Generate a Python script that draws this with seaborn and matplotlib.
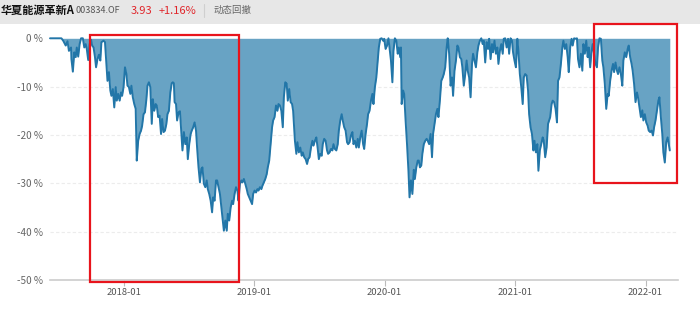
import matplotlib
matplotlib.use("Agg")
import matplotlib.pyplot as plt
import matplotlib.dates as mdates
from matplotlib.patches import Rectangle
import seaborn as sns
import pandas as pd

# ---------------- data (drawdown %) ----------------
dates_2017 = ["2017-06-08", "2017-07-10", "2017-07-15", "2017-07-22", "2017-07-27", "2017-07-31",
              "2017-08-06", "2017-08-07", "2017-08-11", "2017-08-15", "2017-08-19", "2017-08-22",
              "2017-08-26", "2017-08-30", "2017-09-03", "2017-09-08", "2017-09-12", "2017-09-16",
              "2017-09-19", "2017-09-23", "2017-09-27", "2017-10-01", "2017-10-04", "2017-10-08",
              "2017-10-12", "2017-10-15", "2017-10-19", "2017-10-23", "2017-10-27", "2017-10-30",
              "2017-11-05", "2017-11-09", "2017-11-13", "2017-11-16", "2017-11-20", "2017-11-24",
              "2017-11-27", "2017-12-01", "2017-12-05", "2017-12-09", "2017-12-12", "2017-12-16",
              "2017-12-20", "2017-12-24", "2017-12-27", "2017-12-31"]
dd_2017 = [0, 0, -0.5, -1.5, -0.6, -2.6,
           -1.9, -4.3, -6.9, -2.9, -3.9, -1.9,
           -3.8, -1.2, 0, 0, -1.9, -1.2,
           -2.2, -4.5, -1.2, -0.3, -1.5, -1.9,
           -3.9, -6.0, -4.3, -3.4, -4.6, -0.8,
           -0.5, -0.8, -5.3, -8.8, -7.0, -10.8,
           -11.9, -10.5, -14.3, -10.1, -12.9, -11.5,
           -12.9, -11.2, -11.9, -10.1]

dates_2018 = ["2018-01-04", "2018-01-08", "2018-01-11", "2018-01-15", "2018-01-19", "2018-01-22",
              "2018-01-26", "2018-01-30", "2018-02-03", "2018-02-06", "2018-02-10", "2018-02-14",
              "2018-02-18", "2018-02-21", "2018-02-25", "2018-03-01", "2018-03-05", "2018-03-08",
              "2018-03-12", "2018-03-16", "2018-03-20", "2018-03-23", "2018-03-27", "2018-03-31",
              "2018-04-03", "2018-04-07", "2018-04-11", "2018-04-15", "2018-04-18", "2018-04-22",
              "2018-04-26", "2018-04-30", "2018-05-03", "2018-05-07", "2018-05-11", "2018-05-15",
              "2018-05-18", "2018-05-21", "2018-05-23", "2018-05-27", "2018-05-30", "2018-06-03",
              "2018-06-07", "2018-06-11", "2018-06-14", "2018-06-18", "2018-06-22", "2018-06-26",
              "2018-06-29", "2018-07-03", "2018-07-07", "2018-07-10", "2018-07-14", "2018-07-18",
              "2018-07-22", "2018-07-25", "2018-07-29", "2018-08-02", "2018-08-06", "2018-08-09",
              "2018-08-13", "2018-08-17", "2018-08-21", "2018-08-24", "2018-08-28", "2018-09-01",
              "2018-09-05", "2018-09-08", "2018-09-12", "2018-09-16", "2018-09-19", "2018-09-23",
              "2018-09-27", "2018-10-01", "2018-10-04", "2018-10-08", "2018-10-12", "2018-10-16",
              "2018-10-19", "2018-10-23", "2018-10-27", "2018-10-31", "2018-11-03", "2018-11-07",
              "2018-11-11", "2018-11-15", "2018-11-18", "2018-11-22", "2018-11-26", "2018-11-29",
              "2018-12-03", "2018-12-07", "2018-12-11", "2018-12-14", "2018-12-18", "2018-12-22",
              "2018-12-26", "2018-12-29"]
dd_2018 = [-6.0, -7.4, -9.8, -10.1, -11.5, -9.8,
           -12.2, -13.6, -14.6, -25.3, -21.2, -19.8,
           -19.1, -18.1, -15.7, -15.3, -12.6, -9.8,
           -9.1, -10.1, -17.7, -12.6, -15.0, -13.6,
           -13.9, -16.3, -16.0, -19.8, -16.7, -19.4,
           -19.1, -17.7, -15.7, -15.0, -11.2, -9.3,
           -9.1, -9.3, -13.2, -13.6, -17.0, -15.3,
           -15.1, -19.8, -23.2, -19.4, -21.9, -20.5,
           -25.0, -21.9, -19.8, -19.1, -18.4, -17.4,
           -19.1, -22.6, -26.7, -29.8, -27.0, -26.7,
           -30.1, -30.8, -29.4, -31.2, -32.2, -33.6,
           -36.0, -32.9, -33.6, -29.4, -29.4, -30.8,
           -32.2, -35.0, -37.0, -39.8, -37.7, -39.8,
           -36.3, -37.7, -35.0, -33.6, -34.3, -32.2,
           -30.8, -31.5, -33.6, -30.1, -29.4, -29.8,
           -29.1, -30.1, -31.2, -32.2, -32.9, -33.6,
           -34.3, -32.2]

dates_2019 = ["2019-01-02", "2019-01-06", "2019-01-10", "2019-01-13", "2019-01-17", "2019-01-21",
              "2019-01-24", "2019-01-28", "2019-02-01", "2019-02-05", "2019-02-08", "2019-02-12",
              "2019-02-16", "2019-02-20", "2019-02-23", "2019-02-27", "2019-03-03", "2019-03-07",
              "2019-03-10", "2019-03-14", "2019-03-18", "2019-03-22", "2019-03-25", "2019-03-29",
              "2019-04-02", "2019-04-05", "2019-04-09", "2019-04-13", "2019-04-17", "2019-04-20",
              "2019-04-25", "2019-04-29", "2019-05-02", "2019-05-06", "2019-05-10", "2019-05-14",
              "2019-05-17", "2019-05-21", "2019-05-25", "2019-05-29", "2019-06-01", "2019-06-05",
              "2019-06-09", "2019-06-13", "2019-06-16", "2019-06-20", "2019-06-24", "2019-06-28",
              "2019-07-01", "2019-07-05", "2019-07-09", "2019-07-12", "2019-07-16", "2019-07-20",
              "2019-07-24", "2019-07-27", "2019-07-31", "2019-08-04", "2019-08-08", "2019-08-11",
              "2019-08-15", "2019-08-19", "2019-08-23", "2019-08-26", "2019-08-30", "2019-09-03",
              "2019-09-06", "2019-09-10", "2019-09-14", "2019-09-18", "2019-09-21", "2019-09-25",
              "2019-09-29", "2019-10-03", "2019-10-06", "2019-10-10", "2019-10-14", "2019-10-18",
              "2019-10-21", "2019-10-25", "2019-10-29", "2019-11-02", "2019-11-05", "2019-11-09",
              "2019-11-13", "2019-11-16", "2019-11-20", "2019-11-24", "2019-11-28", "2019-12-01",
              "2019-12-05", "2019-12-09", "2019-12-13", "2019-12-16", "2019-12-20", "2019-12-24",
              "2019-12-28", "2019-12-31"]
dd_2019 = [-31.5, -31.9, -31.2, -31.5, -30.8, -31.2,
           -30.5, -29.8, -29.1, -28.1, -26.7, -25.3,
           -21.9, -18.4, -17.0, -16.3, -13.9, -15.0,
           -13.6, -13.9, -15.0, -18.4, -12.2, -9.1,
           -9.4, -12.9, -10.5, -13.2, -13.6, -15.0,
           -21.2, -23.9, -21.5, -23.6, -22.6, -24.3,
           -23.6, -24.6, -25.0, -26.0, -25.0, -24.6,
           -22.6, -21.2, -22.2, -21.2, -20.5, -22.9,
           -25.0, -23.9, -24.3, -21.9, -20.8, -21.2,
           -23.2, -23.9, -23.6, -22.9, -23.2, -21.9,
           -22.9, -23.2, -21.9, -19.1, -17.0, -15.7,
           -17.0, -18.4, -19.1, -21.5, -21.9, -21.5,
           -20.1, -19.4, -21.9, -21.2, -22.6, -20.8,
           -22.6, -20.5, -19.1, -21.9, -22.9, -19.8,
           -17.7, -15.7, -15.0, -12.9, -11.5, -13.6,
           -10.1, -8.1, -4.6, -1.9, -0.1, 0,
           -0.5, -0.1]

dates_2020 = ["2020-01-04", "2020-01-08", "2020-01-12", "2020-01-15", "2020-01-19", "2020-01-23",
              "2020-01-26", "2020-01-30", "2020-02-03", "2020-02-07", "2020-02-10", "2020-02-14",
              "2020-02-16", "2020-02-18", "2020-02-22", "2020-02-25", "2020-02-29", "2020-03-04",
              "2020-03-08", "2020-03-11", "2020-03-15", "2020-03-19", "2020-03-23", "2020-03-26",
              "2020-03-30", "2020-04-03", "2020-04-06", "2020-04-09", "2020-04-13", "2020-04-16",
              "2020-04-20", "2020-04-24", "2020-04-28", "2020-05-01", "2020-05-05", "2020-05-09",
              "2020-05-13", "2020-05-16", "2020-05-20", "2020-05-24", "2020-05-28", "2020-05-31",
              "2020-06-04", "2020-06-08", "2020-06-12", "2020-06-15", "2020-06-19", "2020-06-23",
              "2020-06-26", "2020-06-30", "2020-07-04", "2020-07-08", "2020-07-11", "2020-07-15",
              "2020-07-19", "2020-07-23", "2020-07-26", "2020-07-30", "2020-08-03", "2020-08-06",
              "2020-08-10", "2020-08-14", "2020-08-18", "2020-08-21", "2020-08-25", "2020-08-29",
              "2020-09-02", "2020-09-05", "2020-09-09", "2020-09-13", "2020-09-17", "2020-09-20",
              "2020-09-24", "2020-09-28", "2020-10-02", "2020-10-05", "2020-10-09", "2020-10-13",
              "2020-10-17", "2020-10-20", "2020-10-24", "2020-10-28", "2020-10-31", "2020-11-04",
              "2020-11-08", "2020-11-12", "2020-11-15", "2020-11-19", "2020-11-23", "2020-11-27",
              "2020-11-30", "2020-12-04", "2020-12-08", "2020-12-12", "2020-12-15", "2020-12-19",
              "2020-12-23", "2020-12-26", "2020-12-30"]
dd_2020 = [-2.2, -1.5, 0, -1.9, -4.6, -9.1,
           -2.6, 0, -0.5, -3.2, -1.9, -3.9,
           -1.9, -13.6, -10.8, -11.5, -17.0, -21.9,
           -27.4, -32.9, -29.4, -32.2, -27.2, -29.1,
           -26.7, -25.3, -25.3, -26.7, -26.3, -23.9,
           -21.9, -21.2, -20.8, -21.2, -21.9, -19.8,
           -24.6, -19.8, -17.7, -15.7, -14.6, -16.3,
           -12.9, -8.8, -8.1, -7.4, -6.0, -1.9,
           0, -3.2, -9.8, -8.1, -11.9, -6.7,
           -4.6, -1.5, -1.9, -3.9, -4.3, -6.0,
           -9.8, -7.4, -4.6, -6.7, -8.1, -12.2,
           -5.3, -3.2, -4.6, -6.0, -2.9, -1.5,
           -0.5, 0, -1.2, -0.5, -5.0, -0.8,
           -2.2, -0.1, -4.3, -1.2, -2.9, -0.5,
           -3.2, -1.9, -5.3, -2.6, -1.2, -3.2,
           -0.1, 0, -1.9, -0.1, -3.2, 0,
           -0.5, -2.9, -4.6]

dates_2021 = ["2021-01-03", "2021-01-07", "2021-01-10", "2021-01-14", "2021-01-18", "2021-01-22",
              "2021-01-25", "2021-01-29", "2021-02-02", "2021-02-06", "2021-02-09", "2021-02-13",
              "2021-02-17", "2021-02-21", "2021-02-24", "2021-02-28", "2021-03-04", "2021-03-07",
              "2021-03-11", "2021-03-15", "2021-03-19", "2021-03-22", "2021-03-26", "2021-03-30",
              "2021-04-03", "2021-04-09", "2021-04-13", "2021-04-16", "2021-04-20", "2021-04-24",
              "2021-04-28", "2021-05-01", "2021-05-05", "2021-05-09", "2021-05-13", "2021-05-16",
              "2021-05-20", "2021-05-24", "2021-05-28", "2021-05-31", "2021-06-04", "2021-06-08",
              "2021-06-11", "2021-06-15", "2021-06-19", "2021-06-23", "2021-06-26", "2021-06-30",
              "2021-07-04", "2021-07-08", "2021-07-11", "2021-07-15", "2021-07-19", "2021-07-23",
              "2021-07-26", "2021-07-30", "2021-08-03", "2021-08-06", "2021-08-10", "2021-08-14",
              "2021-08-18", "2021-08-21", "2021-08-25", "2021-08-29", "2021-09-02", "2021-09-05",
              "2021-09-09", "2021-09-13", "2021-09-17", "2021-09-20", "2021-09-24", "2021-09-28",
              "2021-10-02", "2021-10-05", "2021-10-09", "2021-10-13", "2021-10-16", "2021-10-20",
              "2021-10-24", "2021-10-28", "2021-10-31", "2021-11-04", "2021-11-08", "2021-11-12",
              "2021-11-15", "2021-11-19", "2021-11-23", "2021-11-26", "2021-11-30", "2021-12-04",
              "2021-12-08", "2021-12-11", "2021-12-15", "2021-12-19", "2021-12-23", "2021-12-26",
              "2021-12-30"]
dd_2021 = [-6.0, -0.1, -2.6, -7.4, -10.1, -13.6,
           -8.1, -7.4, -7.7, -10.8, -15.7, -18.4,
           -19.8, -23.2, -21.2, -23.6, -21.9, -27.4,
           -23.2, -21.9, -20.5, -21.2, -24.6, -22.6,
           -17.7, -16.3, -13.6, -12.9, -13.2, -14.6,
           -17.4, -8.8, -8.1, -5.3, -1.9, -0.5,
           -2.2, -1.2, -3.9, -7.0, -1.9, -0.1,
           -1.5, 0, -0.1, 0, -4.3, -6.0,
           -3.2, -6.7, -1.2, -3.2, -0.5, -3.9,
           -1.9, -6.0, -2.6, -1.2, -3.2, -5.3,
           -6.0, -1.9, 0, -0.1, -4.6, -6.0,
           -9.4, -14.6, -11.5, -11.9, -8.8, -6.7,
           -5.3, -7.0, -5.0, -6.7, -7.4, -6.0,
           -7.4, -9.8, -4.6, -2.9, -3.9, -2.2,
           -1.5, -3.9, -5.3, -6.7, -9.4, -13.2,
           -11.2, -12.2, -14.3, -16.3, -14.9, -17.0,
           -15.7]

dates_2022 = ["2022-01-03", "2022-01-07", "2022-01-10", "2022-01-14", "2022-01-18", "2022-01-22",
              "2022-01-25", "2022-01-29", "2022-02-02", "2022-02-06", "2022-02-09", "2022-02-13",
              "2022-02-17", "2022-02-20", "2022-02-24", "2022-02-28", "2022-03-04", "2022-03-07",
              "2022-03-10"]
dd_2022 = [-17.4, -18.1, -19.1, -19.4, -19.1, -20.1,
           -18.4, -17.0, -15.0, -12.9, -12.2, -16.3,
           -19.8, -23.6, -25.7, -21.5, -20.5, -21.9,
           -23.2]

x_ticks = ["2018-01-01", "2019-01-01", "2020-01-01", "2021-01-01", "2022-01-01"]
x_tick_labels = ["2018-01", "2019-01", "2020-01", "2021-01", "2022-01"]
y_ticks = [0, -10, -20, -30, -40, -50]
y_tick_labels = ["0 %", "-10 %", "-20 %", "-30 %", "-40 %", "-50 %"]

fund_name = "华夏能源革新A"
fund_code = "003834.OF"
nav_value = "3.93"
nav_change = "+1.16%"
tab_label = "动态回撤"

# red highlight boxes: (start, end, top %, bottom %)
boxes = [("2017-09-28", "2018-11-19", 0.6, -50.4),
         ("2021-08-09", "2022-03-30", 3.0, -29.9)]

# ---------------- build ----------------
df = pd.DataFrame({
    "date": pd.to_datetime(dates_2017 + dates_2018 + dates_2019 + dates_2020 + dates_2021 + dates_2022),
    "dd": dd_2017 + dd_2018 + dd_2019 + dd_2020 + dd_2021 + dd_2022,
})

sns.set_theme(style="white")
plt.rcParams["font.family"] = ["Noto Sans CJK SC", "DejaVu Sans"]

W, H = 700, 314
fig = plt.figure(figsize=(W / 100, H / 100), dpi=100)
fig.patch.set_facecolor("white")

# header band
fig.add_artist(Rectangle((0, 1 - 24 / H), 1, 24 / H, transform=fig.transFigure,
                         facecolor="#e7e7e7", edgecolor="none", zorder=0))
ty = 1 - 10.5 / H
fig.text(0.5 / W, ty, fund_name, fontsize=8.0, fontweight="bold", color="#111111", va="center")
fig.text(76 / W, ty, fund_code, fontsize=6.5, color="#555555", va="center")
fig.text(131 / W, ty, nav_value, fontsize=8, color="#e0262b", va="center")
fig.text(159 / W, ty, nav_change, fontsize=8, color="#e0262b", va="center")
fig.add_artist(plt.Line2D([204 / W, 204 / W], [1 - 4 / H, 1 - 17 / H], transform=fig.transFigure,
                          color="#cfcfcf", linewidth=0.8))
fig.text(213 / W, ty, tab_label, fontsize=6.8, color="#666666", va="center")

ax = fig.add_axes([50 / W, 1 - 280 / H, 628 / W, (280 - 38.3) / H])
ax.set_facecolor("white")

ax.fill_between(df["date"], df["dd"], 0, color="#68a3c4", linewidth=0, zorder=2)
sns.lineplot(data=df, x="date", y="dd", ax=ax, color="#2276a8", linewidth=1.4,
             zorder=3, clip_on=False)

ax.set_xlim(pd.Timestamp("2017-06-08"), pd.Timestamp("2022-04-02"))
ax.set_ylim(-50, 0)

ax.set_yticks(y_ticks)
ax.set_yticklabels(y_tick_labels)
ax.set_xticks(pd.to_datetime(x_ticks))
ax.set_xticklabels(x_tick_labels)
ax.set_xlabel("")
ax.set_ylabel("")

ax.tick_params(axis="y", length=0, pad=5, labelsize=7.2, labelcolor="#666666")
ax.tick_params(axis="x", length=4, width=0.8, color="#bbbbbb", pad=2, labelsize=6.8,
               labelcolor="#555555", bottom=True, direction="out")

for v in y_ticks[1:-1]:
    ax.axhline(v, color="#ececec", linewidth=0.8, linestyle=(0, (3, 2)), zorder=1)

for s in ["top", "right", "left"]:
    ax.spines[s].set_visible(False)
ax.spines["bottom"].set_color("#cccccc")
ax.spines["bottom"].set_linewidth(1.2)
ax.grid(False)

for start, end, top, bottom in boxes:
    x0 = mdates.date2num(pd.Timestamp(start))
    x1 = mdates.date2num(pd.Timestamp(end))
    ax.add_patch(Rectangle((x0, bottom), x1 - x0, top - bottom, fill=False,
                           edgecolor="#e8141c", linewidth=1.6, clip_on=False, zorder=5))

fig.savefig("out.png", dpi=100)
